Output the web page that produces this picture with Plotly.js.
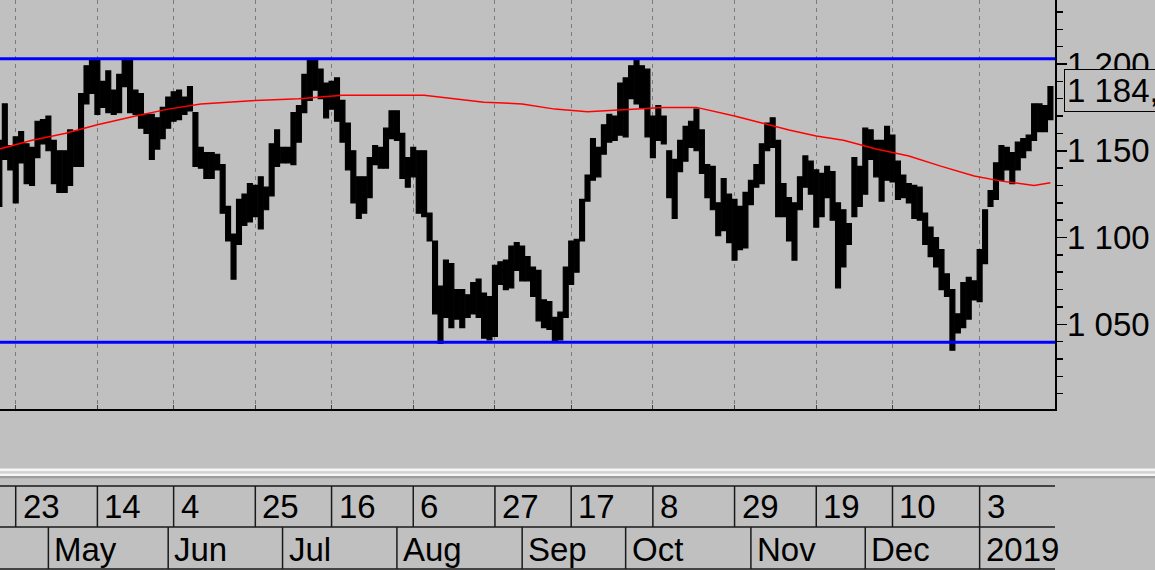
<!DOCTYPE html>
<html>
<head>
<meta charset="utf-8">
<script src="https://cdn.plot.ly/plotly-3.0.1.min.js"></script>
<style>
html,body{margin:0;padding:0;background:#c0c0c0;}
#chart{width:1155px;height:570px;}
</style>
</head>
<body>
<div id="chart"></div>
<script>
// ---------- data ----------
const firstDay = '2018-04-18';
const holidays = ['2018-05-28','2018-07-04','2018-09-03','2018-11-22','2018-12-25','2019-01-01','2019-01-21'];

const barHigh = [
1156,1177,1153,1158,1161,1154,1152,1167,1168,1170,
1156,1150,1150,1162,1161,1183,1199,1203,1202,1190,
1196,1185,1194,1203,1202,1185,1183,1171,1171,1169,
1175,1181,1184,1185,1181,1187,1172,1152,1149,1149,
1148,1142,1118,1102,1122,1125,1131,1130,1135,1129,
1154,1162,1152,1152,1172,1176,1194,1202,1202,1197,
1189,1190,1192,1179,1166,1150,1135,1135,1146,1153,
1152,1163,1173,1173,1160,1146,1152,1150,1150,1114,
1098,1072,1087,1085,1070,1070,1067,1074,1076,1068,
1066,1084,1086,1087,1095,1097,1095,1089,1083,1081,
1064,1063,1054,1057,1083,1098,1099,1122,1136,1157,
1152,1165,1171,1170,1189,1192,1199,1202,1199,1197,
1170,1176,1170,1150,1145,1156,1164,1167,1174,1162,
1142,1141,1120,1134,1125,1122,1118,1126,1133,1142,
1154,1166,1169,1156,1131,1123,1120,1135,1147,1144,
1139,1137,1141,1138,1120,1116,1108,1146,1141,1163,
1162,1156,1156,1164,1159,1144,1136,1131,1130,1129,
1114,1106,1100,1093,1079,1070,1056,1074,1077,1075,
1093,1116,1127,1143,1153,1152,1149,1155,1157,1159,
1177,1177,1176,1187
];
const barLow = [
1118,1145,1139,1120,1143,1131,1130,1146,1154,1150,
1131,1126,1126,1130,1141,1141,1177,1183,1171,1175,
1172,1171,1172,1187,1172,1171,1163,1160,1145,1151,
1157,1163,1167,1168,1171,1173,1141,1140,1134,1134,
1139,1114,1098,1076,1096,1107,1109,1112,1105,1116,
1124,1141,1143,1143,1142,1155,1172,1179,1185,1180,
1169,1174,1167,1155,1139,1120,1111,1114,1123,1142,
1140,1140,1157,1156,1134,1129,1135,1114,1112,1098,
1056,1039,1054,1048,1053,1048,1054,1056,1054,1042,
1041,1043,1073,1070,1071,1081,1075,1075,1066,1052,
1048,1047,1040,1041,1054,1073,1080,1098,1121,1133,
1135,1148,1155,1156,1159,1158,1180,1177,1175,1158,
1146,1156,1154,1123,1111,1138,1144,1152,1150,1137,
1123,1116,1101,1104,1097,1087,1093,1094,1119,1129,
1131,1150,1152,1112,1112,1098,1087,1116,1129,1125,
1106,1112,1123,1110,1071,1083,1096,1112,1118,1125,
1145,1135,1121,1133,1132,1122,1123,1120,1111,1110,
1096,1089,1083,1070,1066,1035,1045,1048,1053,1064,
1063,1085,1118,1122,1133,1139,1131,1139,1146,1150,
1156,1161,1161,1168
];

const maDates = ['2018-04-18','2018-04-26','2018-05-04','2018-05-14','2018-05-23','2018-06-01','2018-06-11',
  '2018-06-25','2018-07-06','2018-07-18','2018-08-08','2018-08-15','2018-08-23','2018-09-04','2018-09-12',
  '2018-09-20','2018-09-28','2018-10-10','2018-10-18','2018-10-23','2018-10-29','2018-11-05','2018-11-12',
  '2018-11-19','2018-11-27','2018-12-05','2018-12-13','2018-12-21','2019-01-02','2019-01-09','2019-01-17','2019-01-23'];
const maValues = [1151,1156,1160,1165,1170,1174,1177,
  1179,1180,1182,1182,1180,1178,1177,1174,
  1172.5,1173.5,1175,1175,1173,1170,1166,1162,
  1158.5,1156,1151,1147,1141,1135.5,1132.5,1130,1131.5];

const channelLevels = [1203, 1039.6];
const lastPrice = 1184.8;

const dayTickDates = ['2018-04-23','2018-05-14','2018-06-04','2018-06-25','2018-07-16','2018-08-06','2018-08-27',
  '2018-09-17','2018-10-08','2018-10-29','2018-11-19','2018-12-10','2019-01-03'];
const dayTickLabels = ['23','14','4','25','16','6','27','17','8','29','19','10','3'];
const monthStartDates = ['2018-05-01','2018-06-01','2018-07-02','2018-08-01','2018-09-04','2018-10-01',
  '2018-11-01','2018-12-03','2019-01-03'];
const monthLabels = ['May','Jun','Jul','Aug','Sep','Oct','Nov','Dec','2019'];

// ---------- trading calendar ----------
function tradingDays(start, n, skip) {
  const out = [];
  const d = new Date(start + 'T00:00:00Z');
  while (out.length < n) {
    const dow = d.getUTCDay();
    const s = d.toISOString().slice(0, 10);
    if (dow !== 0 && dow !== 6 && skip.indexOf(s) < 0) out.push(s);
    d.setUTCDate(d.getUTCDate() + 1);
  }
  return out;
}
const dates = tradingDays(firstDay, barHigh.length, holidays);
const idx = d => dates.indexOf(d);

// ---------- layout helpers ----------
const W = 1155, H = 570;
const PX = px => px / W;
const PY = py => 1 - py / H;
const FONT = 'Liberation Sans, Arial, sans-serif';
const FS = 33;

const traces = [
  {
    type: 'bar',
    x: dates,
    base: barLow,
    y: barHigh.map((h, i) => h - barLow[i]),
    width: 0.9,
    marker: {color: '#000000', line: {width: 1.2, color: '#000000'}},
    hoverinfo: 'skip'
  },
  {
    type: 'scatter',
    mode: 'lines',
    x: maDates,
    y: maValues,
    line: {color: '#ff0000', width: 1.5},
    hoverinfo: 'skip'
  }
];

const shapes = [];
channelLevels.forEach(v => shapes.push({
  type: 'line', xref: 'x domain', x0: 0, x1: 1, yref: 'y', y0: v, y1: v,
  line: {color: '#0000ff', width: 3}, layer: 'above'
}));

// 3D separator band
[[468.5, 471.5, '#f6f6f6'], [471.5, 473.5, '#d2d2d2'], [473.5, 476, '#f6f6f6'], [476, 478.3, '#9c9c9c']]
  .forEach(b => shapes.push({type: 'rect', xref: 'paper', yref: 'paper', x0: 0, x1: 1,
    y0: PY(b[1]), y1: PY(b[0]), fillcolor: b[2], line: {width: 0}, layer: 'below'}));

// date rows
const rowTop = 486, rowMid = 527, rowBot = 569, rowRight = 1055;
[rowTop, rowMid, rowBot].forEach(py => shapes.push({type: 'line', xref: 'paper', yref: 'paper',
  x0: 0, x1: PX(rowRight), y0: PY(py), y1: PY(py), line: {color: '#1a1a1a', width: 1.5}}));
dayTickDates.forEach(d => shapes.push({type: 'line', xref: 'x', yref: 'paper', x0: idx(d), x1: idx(d),
  y0: PY(rowTop), y1: PY(rowMid), line: {color: '#1a1a1a', width: 1.5}}));
monthStartDates.forEach(d => shapes.push({type: 'line', xref: 'x', yref: 'paper', x0: idx(d), x1: idx(d),
  y0: PY(rowMid), y1: PY(rowBot), line: {color: '#1a1a1a', width: 1.5}}));

const annotations = [];
dayTickDates.forEach((d, k) => annotations.push({
  xref: 'x', x: idx(d), xanchor: 'left', xshift: 5,
  yref: 'paper', y: PY(506), yanchor: 'middle',
  text: dayTickLabels[k], showarrow: false,
  font: {family: FONT, size: FS, color: '#000'}
}));
monthStartDates.forEach((d, k) => annotations.push({
  xref: 'x', x: idx(d), xanchor: 'left', xshift: 4,
  yref: 'paper', y: PY(549), yanchor: 'middle',
  text: monthLabels[k], showarrow: false,
  font: {family: FONT, size: FS, color: '#000'}
}));
// last price box
const lastTxt = lastPrice.toFixed(2).replace('.', ',').replace(/^(\d)(\d{3})/, '$1 $2');
annotations.push({
  xref: 'paper', x: PX(1064), xanchor: 'left',
  yref: 'y', y: lastPrice, yanchor: 'middle',
  text: lastTxt, showarrow: false,
  bgcolor: '#c0c0c0', bordercolor: '#000', borderwidth: 1, borderpad: 2,
  font: {family: FONT, size: FS, color: '#000'}
});

const layout = {
  width: W, height: H,
  margin: {l: 0, r: 0, t: 0, b: 0, pad: 0},
  paper_bgcolor: '#c0c0c0',
  plot_bgcolor: '#c0c0c0',
  separators: ', ',
  showlegend: false,
  bargap: 0,
  xaxis: {
    type: 'category',
    domain: [0, PX(1055)],
    range: [0.117, 193.84],
    tickmode: 'array',
    tickvals: dayTickDates,
    showticklabels: false,
    ticks: 'inside', ticklen: 4, tickcolor: '#404040', tickwidth: 1,
    showgrid: true, gridcolor: '#7a7a7a', gridwidth: 1, griddash: '4px,4px',
    showline: true, linecolor: '#000', linewidth: 1.5,
    zeroline: false, fixedrange: true
  },
  yaxis: {
    domain: [PY(409), 1],
    side: 'right',
    range: [1001.15, 1236.9],
    tick0: 0, dtick: 50,
    ticks: 'outside', ticklen: 10, tickcolor: '#000', tickwidth: 1.5,
    ticklabelstandoff: -6,
    minor: {dtick: 10, ticks: 'outside', ticklen: 6, tickcolor: '#000', tickwidth: 1.5, showgrid: false},
    separatethousands: true,
    tickfont: {family: FONT, size: FS, color: '#000'},
    showgrid: false, zeroline: false,
    showline: true, linecolor: '#000', linewidth: 1.5,
    fixedrange: true, automargin: false
  },
  shapes: shapes,
  annotations: annotations
};

Plotly.newPlot('chart', traces, layout, {staticPlot: true, displayModeBar: false});
</script>
</body>
</html>
